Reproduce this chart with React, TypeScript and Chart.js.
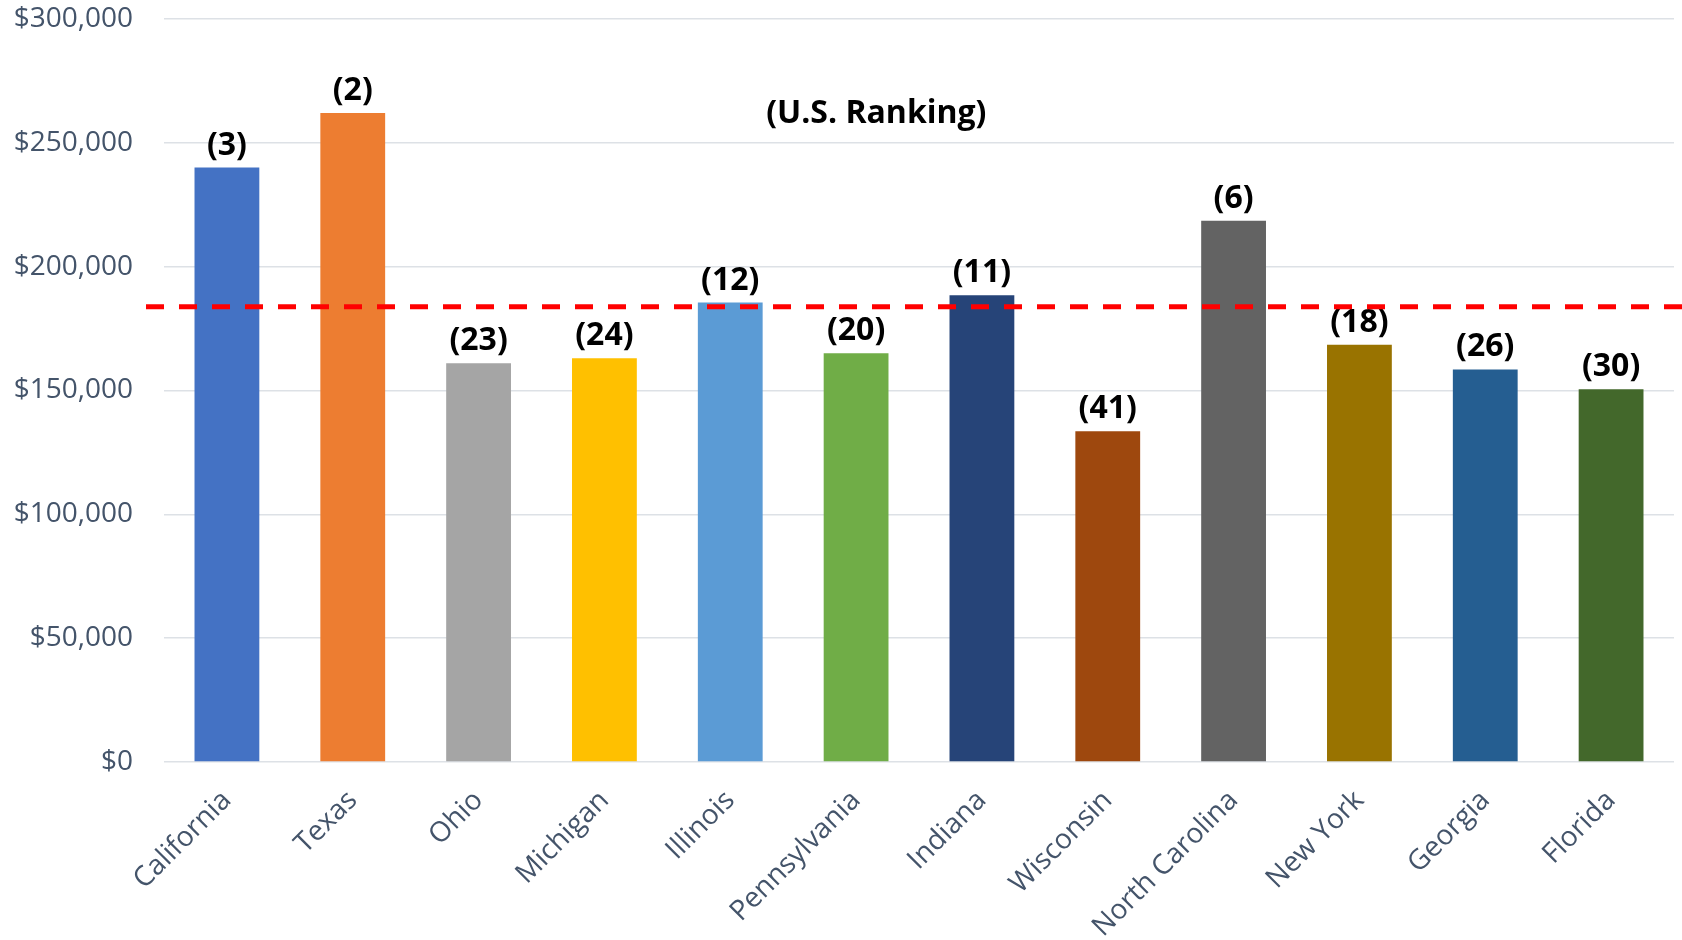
import React, { useEffect, useRef } from "react";
import { Chart, registerables } from "chart.js";

Chart.register(...registerables);

const states = ["California", "Texas", "Ohio", "Michigan", "Illinois", "Pennsylvania", "Indiana", "Wisconsin", "North Carolina", "New York", "Georgia", "Florida"];
const values = [240000, 262000, 161000, 163000, 185500, 165000, 188500, 133500, 218500, 168500, 158500, 150500];
const rankings = [3, 2, 23, 24, 12, 20, 11, 41, 6, 18, 26, 30];
const barColors = ["#4472C4", "#ED7D31", "#A5A5A5", "#FFC000", "#5B9BD5", "#70AD47", "#264478", "#9E480E", "#636363", "#997300", "#255E91", "#43682B"];
const referenceLine = 183800;
const titleText = "(U.S. Ranking)";
const yTicks = [0, 50000, 100000, 150000, 200000, 250000, 300000];

const overlayPlugin = {
  id: "overlay",
  afterDatasetsDraw(chart: any) {
    const ctx = chart.ctx;
    const meta = chart.getDatasetMeta(0);
    ctx.save();
    ctx.font = "bold 32px 'Open Sans', sans-serif";
    ctx.fillStyle = "#000000";
    ctx.textAlign = "center";
    ctx.textBaseline = "alphabetic";
    meta.data.forEach((bar: any, i: number) => {
      ctx.fillText("(" + rankings[i] + ")", bar.x, bar.y - 13);
    });
    // reference dashed line
    const y = chart.scales.y.getPixelForValue(referenceLine);
    ctx.strokeStyle = "#FF0000";
    ctx.lineWidth = 5;
    ctx.setLineDash([18, 15]);
    ctx.beginPath();
    ctx.moveTo(chart.chartArea.left - 18, y);
    ctx.lineTo(chart.width, y);
    ctx.stroke();
    ctx.setLineDash([]);
    // title
    ctx.font = "bold 32px 'Open Sans', sans-serif";
    ctx.fillText(titleText, chart.width * 0.521, 123);
    ctx.restore();
  },
};

export default function App() {
  const ref = useRef<HTMLCanvasElement>(null);
  useEffect(() => {
    document.body.style.margin = "0";
    const chart = new Chart(ref.current!, {
      type: "bar",
      data: {
        labels: states,
        datasets: [
          {
            data: values,
            backgroundColor: barColors,
            borderWidth: 0,
            barPercentage: 0.515,
            categoryPercentage: 1,
          },
        ],
      },
      options: {
        animation: false,
        responsive: true,
        maintainAspectRatio: false,
        layout: { padding: { top: 19, right: 8, left: 0, bottom: 0 } },
        plugins: { legend: { display: false }, tooltip: { enabled: false }, title: { display: false } },
        scales: {
          x: {
            grid: { display: false },
            border: { display: false },
            ticks: {
              color: "#44546A",
              font: { family: "'Open Sans', sans-serif", size: 28 },
              maxRotation: 45,
              minRotation: 45,
              padding: 14,
            },
            afterFit(scale: any) {
              scale.height = 178;
              scale.paddingLeft = 0;
              scale.paddingRight = 0;
            },
          },
          y: {
            min: 0,
            max: 300000,
            afterBuildTicks(scale: any) {
              scale.ticks = yTicks.map((v) => ({ value: v }));
            },
            grid: { color: "#DDE1E6", lineWidth: 1.5, drawTicks: false },
            border: { display: false },
            ticks: {
              color: "#44546A",
              font: { family: "'Open Sans', sans-serif", size: 28 },
              padding: 31,
              callback: (v: any) => "$" + Number(v).toLocaleString("en-US"),
            },
            afterFit(scale: any) {
              scale.width = 164;
              scale.paddingTop = 0;
              scale.paddingBottom = 0;
            },
          },
        },
      },
      plugins: [overlayPlugin],
    });
    return () => chart.destroy();
  }, []);
  return (
    <div style={{ position: "fixed", left: 0, top: 0, width: 1682, height: 940, background: "#fff" }}>
      <canvas ref={ref} />
    </div>
  );
}
